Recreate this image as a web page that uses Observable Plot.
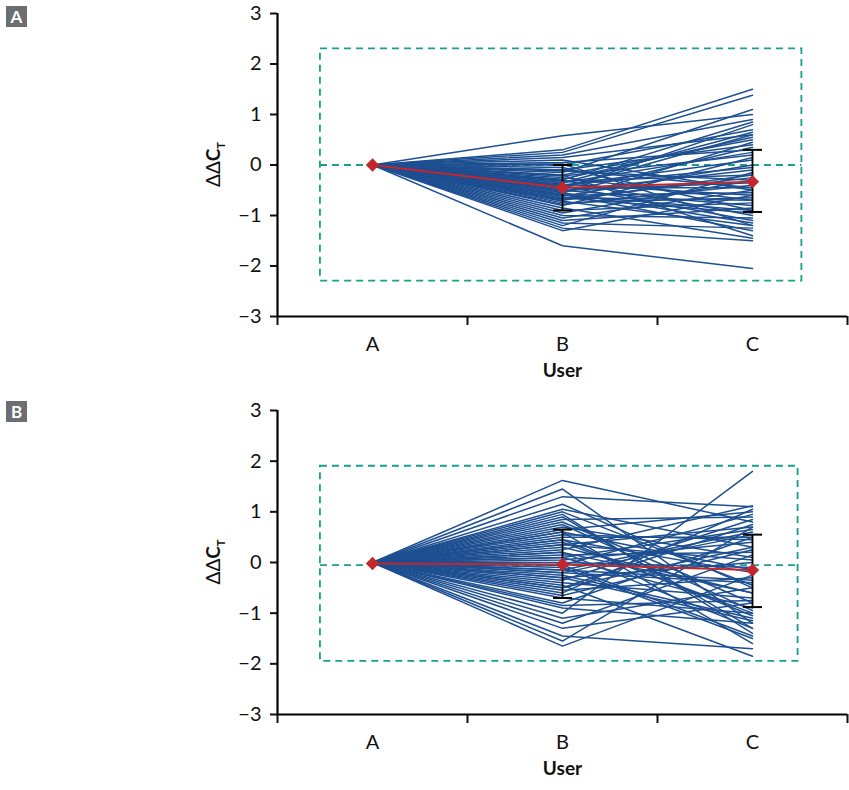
<!DOCTYPE html>
<html><head><meta charset="utf-8">
<script src="https://cdn.jsdelivr.net/npm/d3@7"></script>
<script src="https://cdn.jsdelivr.net/npm/@observablehq/plot@0.6"></script>
<style>
body{margin:0;background:#fff;font-family:Lato,sans-serif}
.panel{position:relative;width:849px;height:395px}
.tag{position:absolute;left:6px;top:6px;width:21px;height:21px;background:#6d6e71;color:#fff;font:bold 17px Lato,sans-serif;text-align:center;line-height:21px}
</style></head><body>
<div id="a" class="panel"><div class="tag">A</div></div>
<div id="b" class="panel"><div class="tag">B</div></div>
<script>
const users = ["A", "B", "C"];
const yTicks = [-3, -2, -1, 0, 1, 2, 3];

// panel A: each run starts at 0 for user A
const aB = [0.58,0.3,0.25,0.2,0.15,0.1,0.05,0.02,0,-0.05,-0.1,-0.12,-0.15,-0.2,-0.22,-0.25,-0.28,-0.3,-0.32,-0.35,-0.38,-0.4,-0.42,-0.45,-0.47,-0.5,-0.52,-0.55,-0.58,-0.6,-0.62,-0.65,-0.68,-0.7,-0.72,-0.75,-0.78,-0.8,-0.85,-0.9,-0.95,-1.0,-1.05,-1.1,-1.15,-1.2,-1.25,-1.3,-1.6,-0.35,-0.5,-0.45,-0.6,-0.4,-0.3,-0.55,-0.65,-0.7,-0.2,-0.1];
const aC = [1.0,1.5,1.38,0.9,0.6,-0.5,0.3,-1.2,0.7,-0.9,0.4,-0.3,1.1,-1.4,0.2,-0.7,0.55,-1.0,-0.2,0.65,-0.6,0.1,-1.1,-0.45,0.8,-0.8,-0.1,0.35,-1.3,-0.55,0.0,-0.95,-0.25,0.45,-1.2,-0.65,-0.4,0.15,-1.45,-0.75,-0.3,-1.05,-0.5,-0.85,-1.25,-0.15,-1.5,-0.6,-2.05,0.25,-0.35,0.6,-0.9,-0.05,0.85,-1.15,-0.7,-0.2,0.5,-0.45];
const aMean = [0, -0.45, -0.33];
const aLo = [0, -0.9, -0.93];
const aHi = [0, 0, 0.3];
const aBox = {lo: -2.3, hi: 2.3, mid: 0, x1: 0.226, x2: 2.76};

// panel B
const bB = [1.62,1.45,1.3,1.15,1.05,0.95,0.85,0.8,0.7,0.65,0.6,0.5,0.45,0.4,0.35,0.3,0.25,0.2,0.15,0.1,0.05,0.0,-0.05,-0.1,-0.15,-0.2,-0.25,-0.3,-0.35,-0.4,-0.45,-0.5,-0.55,-0.6,-0.7,-0.8,-0.9,-1.0,-1.1,-1.2,-1.3,-1.45,-1.55,-1.65,0.9,0.55,0.2,-0.3,-0.65,0.75,0.1,-0.15,-0.05,0.35,-0.5,1.0,-0.85,0.45,-0.2,0.6];
const bC = [0.8,-1.2,1.1,-0.5,0.3,-1.4,0.9,-0.8,0.1,1.0,-1.6,0.5,-0.2,-1.0,0.7,-0.6,1.12,-1.3,0.2,-0.9,0.4,-0.1,0.95,-1.5,0.6,-0.4,-1.1,0.0,0.85,-0.7,-1.85,0.3,-0.3,1.05,-1.0,0.5,-1.2,1.8,-0.5,0.15,-0.8,-1.7,0.7,-0.25,-1.3,0.45,-0.6,-1.15,0.25,-0.95,0.65,-0.35,-1.45,0.05,0.75,-0.45,-0.75,-1.05,0.55,-0.15];
const bMean = [-0.02, -0.04, -0.15];
const bLo = [0, -0.7, -0.88];
const bHi = [0, 0.65, 0.55];
const bBox = {lo: -1.95, hi: 1.9, mid: -0.05, x1: 0.226, x2: 2.74};

const pos = u => users.indexOf(u) + 0.5;

function panel(sel, valsB, valsC, mean, lo, hi, box, mt, mb) {
  const runs = valsB.flatMap((v, i) => [
    {id: i, user: "A", v: 0}, {id: i, user: "B", v}, {id: i, user: "C", v: valsC[i]}]);
  const stats = users.map((u, i) => ({user: u, m: mean[i], lo: lo[i], hi: hi[i]})).filter(d => d.lo !== d.hi);
  const means = users.map((u, i) => ({user: u, m: mean[i]}));
  const dash = {stroke: "#16a08f", strokeWidth: 1.8, strokeDasharray: "7,5"};
  const chart = Plot.plot({
    width: 849, height: 395, marginLeft: 277, marginRight: 2, marginTop: mt, marginBottom: mb,
    style: {fontFamily: "Lato, sans-serif", fontSize: "20px", color: "#111"},
    x: {domain: [0, 3], type: "linear"},
    y: {domain: [-3, 3], type: "linear"},
    marks: [
      Plot.rect([box], {x1: "x1", x2: "x2", y1: "lo", y2: "hi", fill: "none", ...dash}),
      Plot.ruleY([box], {x1: "x1", x2: "x2", y: "mid", ...dash}),
      Plot.line(runs, {x: d => pos(d.user), y: "v", z: "id", stroke: "#1d4f91", strokeWidth: 1.5}),
      Plot.ruleX(stats, {x: d => pos(d.user), y1: "lo", y2: "hi", stroke: "#000", strokeWidth: 1.8}),
      Plot.link(stats, {x1: d => pos(d.user) - 0.05, x2: d => pos(d.user) + 0.05, y1: "lo", y2: "lo", stroke: "#000", strokeWidth: 2}),
      Plot.link(stats, {x1: d => pos(d.user) - 0.05, x2: d => pos(d.user) + 0.05, y1: "hi", y2: "hi", stroke: "#000", strokeWidth: 2}),
      Plot.line(means, {x: d => pos(d.user), y: "m", stroke: "#c1272d", strokeWidth: 2}),
      Plot.dot(means, {x: d => pos(d.user), y: "m", symbol: "diamond2", r: 6, fill: "#c1272d"}),
      Plot.axisY({ticks: yTicks, tickSize: 7, tickPadding: 9, tickFormat: d => d < 0 ? "\u2212" + Math.abs(d) : d, fontSize: 20, label: null, strokeWidth: 2}),
      Plot.axisX({ticks: [0, 1, 2, 3], tickSize: 9, tickFormat: () => "", label: null, strokeWidth: 2}),
      Plot.axisX({ticks: [0.5, 1.5, 2.5], tickSize: 0, tickPadding: 20, tickFormat: d => users[d - 0.5], fontSize: 20,
        label: "User", labelAnchor: "center", labelArrow: "none", labelOffset: 60}),
      Plot.ruleX([0], {stroke: "#000", strokeWidth: 2.2}),
      Plot.ruleY([-3], {stroke: "#000", strokeWidth: 2.2})
    ]
  });
  const svg = d3.select(chart);
  const yBase = 395 - mb;
  svg.selectAll("g[aria-label='x-axis label'] text").attr("font-weight", "bold").attr("font-size", 19);
  const t = svg.append("text").attr("transform", `translate(220,${mt + (yBase - mt) / 2}) rotate(-90)`)
    .attr("text-anchor", "middle").attr("font-size", 19).attr("font-weight", "bold").attr("fill", "#111");
  t.append("tspan").attr("font-weight", "normal").text("\u0394\u0394");
  t.append("tspan").text("C");
  t.append("tspan").attr("font-size", 11).attr("dy", 5).text("T");
  document.querySelector(sel).append(chart);
}

panel("#a", aB, aC, aMean, aLo, aHi, aBox, 13, 79);
panel("#b", bB, bC, bMean, bLo, bHi, bBox, 15, 76);
</script>
</body></html>
